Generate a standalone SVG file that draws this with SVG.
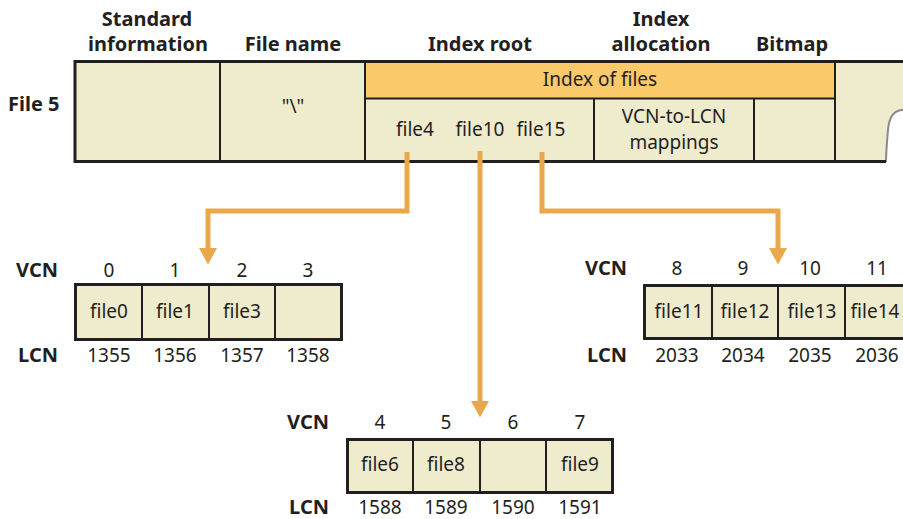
<svg xmlns="http://www.w3.org/2000/svg" width="903" height="519" viewBox="0 0 903 519">
<defs>
<style>
text{font-family:"Noto Sans","Open Sans","Liberation Sans",sans-serif;fill:#231f20}
.b{font-weight:bold;font-size:20px}
.r{font-size:19px}
.c{text-anchor:middle}
.e{text-anchor:end}
.cell{fill:#efebcd;stroke:#231f20;stroke-width:3}
.div{stroke:#231f20;stroke-width:2}
.band{fill:#f9c96a;stroke:#231f20;stroke-width:2}
.conn{fill:none;stroke:#e9a84c;stroke-width:5}
</style>
<marker id="ah" markerWidth="4" markerHeight="4" refX="2.2" refY="2" orient="auto" markerUnits="strokeWidth" viewBox="0 0 4 4">
<path d="M0,0.2 L3.3,2 L0,3.8 Z" fill="#e9a84c"/>
</marker>
</defs>

<g id="headers">
<text class="b c" x="147" y="26">Standard</text>
<text class="b c" x="148" y="51">information</text>
<text class="b c" x="293" y="51">File name</text>
<text class="b c" x="480" y="51">Index root</text>
<text class="b c" x="661" y="26">Index</text>
<text class="b c" x="661" y="51">allocation</text>
<text class="b c" x="792" y="51">Bitmap</text>
<text class="b" x="8" y="111">File 5</text>
</g>

<g id="file5">
<path d="M75,61 H903 V110 C893,110 889,118 888,130 C887,142 886,152 886,162 H75 Z" fill="#efebcd"/>
<path d="M903,110 C893,110 889,118 888,130 C887,142 886,152 886,162" fill="none" stroke="#8a8a8a" stroke-width="2"/>
<rect class="band" x="365" y="61.5" width="470" height="37"/>
<line class="div" x1="220" y1="61" x2="220" y2="162"/>
<line class="div" x1="365" y1="61" x2="365" y2="162"/>
<line class="div" x1="594" y1="98" x2="594" y2="162"/>
<line class="div" x1="754" y1="98" x2="754" y2="162"/>
<line class="div" x1="835" y1="61" x2="835" y2="162"/>
<path d="M903,61.5 H75 V161.5 H886" fill="none" stroke="#231f20" stroke-width="3"/>
<text class="r c" x="293" y="113">"\"</text>
<text class="r c" x="600" y="86">Index of files</text>
<text class="r c" x="415" y="136">file4</text>
<text class="r c" x="480" y="136">file10</text>
<text class="r c" x="541" y="136">file15</text>
<text class="r c" x="674" y="123">VCN-to-LCN</text>
<text class="r c" x="674" y="149">mappings</text>
</g>

<g id="connectors">
<path class="conn" d="M407,152 V211 H208 V259" marker-end="url(#ah)"/>
<path class="conn" d="M480,151 V412" marker-end="url(#ah)"/>
<path class="conn" d="M542,152 V211 H778 V259" marker-end="url(#ah)"/>
</g>

<g id="run1">
<text class="b e" x="58" y="277">VCN</text>
<text class="b e" x="58" y="362">LCN</text>
<rect class="cell" x="75.5" y="284.5" width="266" height="55"/>
<line class="div" x1="142" y1="284" x2="142" y2="340"/>
<line class="div" x1="209" y1="284" x2="209" y2="340"/>
<line class="div" x1="275" y1="284" x2="275" y2="340"/>
<text class="r c" x="109" y="277">0</text>
<text class="r c" x="175" y="277">1</text>
<text class="r c" x="242" y="277">2</text>
<text class="r c" x="308" y="277">3</text>
<text class="r c" x="109" y="318">file0</text>
<text class="r c" x="175" y="318">file1</text>
<text class="r c" x="242" y="318">file3</text>
<text class="r c" x="109" y="362">1355</text>
<text class="r c" x="175" y="362">1356</text>
<text class="r c" x="242" y="362">1357</text>
<text class="r c" x="308" y="362">1358</text>
</g>

<g id="run2">
<text class="b e" x="329" y="429">VCN</text>
<text class="b e" x="329" y="514">LCN</text>
<rect class="cell" x="347.5" y="439.5" width="265" height="53"/>
<line class="div" x1="413" y1="439" x2="413" y2="493"/>
<line class="div" x1="480" y1="439" x2="480" y2="493"/>
<line class="div" x1="546" y1="439" x2="546" y2="493"/>
<text class="r c" x="380" y="429">4</text>
<text class="r c" x="446" y="429">5</text>
<text class="r c" x="513" y="429">6</text>
<text class="r c" x="580" y="429">7</text>
<text class="r c" x="380" y="471">file6</text>
<text class="r c" x="446" y="471">file8</text>
<text class="r c" x="580" y="471">file9</text>
<text class="r c" x="380" y="514">1588</text>
<text class="r c" x="446" y="514">1589</text>
<text class="r c" x="513" y="514">1590</text>
<text class="r c" x="580" y="514">1591</text>
</g>

<g id="run3">
<text class="b e" x="627" y="275">VCN</text>
<text class="b e" x="627" y="362">LCN</text>
<rect class="cell" x="644.5" y="285.5" width="270" height="53"/>
<line class="div" x1="712" y1="285" x2="712" y2="339"/>
<line class="div" x1="778" y1="285" x2="778" y2="339"/>
<line class="div" x1="845" y1="285" x2="845" y2="339"/>
<text class="r c" x="677" y="275">8</text>
<text class="r c" x="743" y="275">9</text>
<text class="r c" x="810" y="275">10</text>
<text class="r c" x="877" y="275">11</text>
<text class="r c" x="679" y="318">file11</text>
<text class="r c" x="745" y="318">file12</text>
<text class="r c" x="812" y="318">file13</text>
<text class="r c" x="875" y="318">file14</text>
<text class="r c" x="677" y="362">2033</text>
<text class="r c" x="743" y="362">2034</text>
<text class="r c" x="810" y="362">2035</text>
<text class="r c" x="877" y="362">2036</text>
</g>
</svg>
